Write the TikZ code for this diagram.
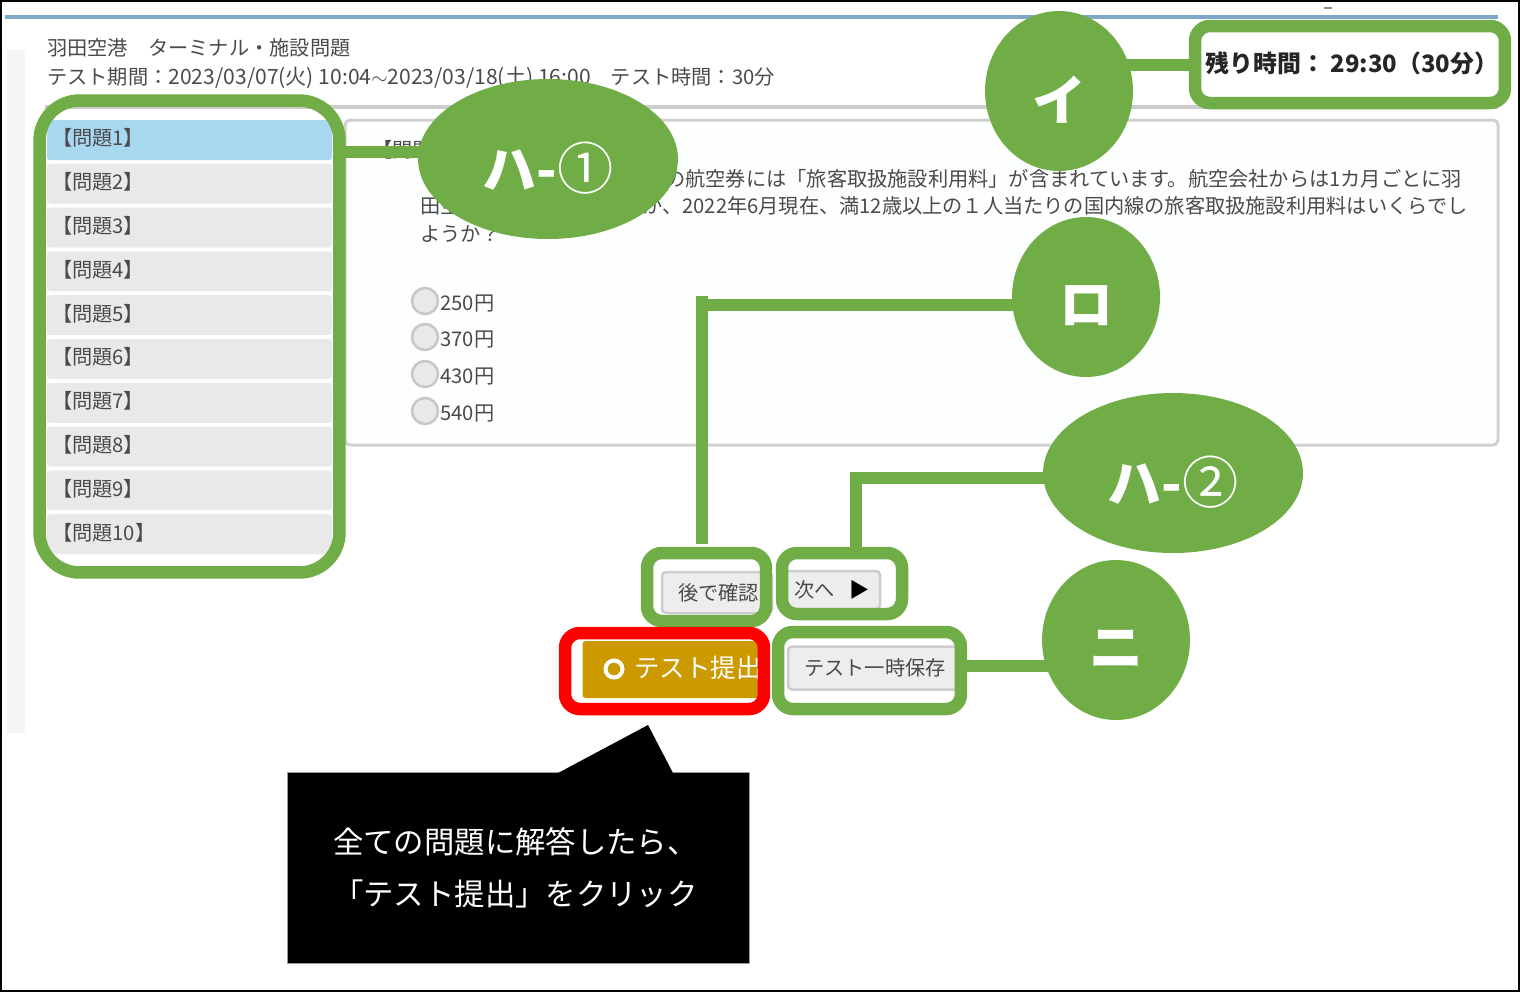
\documentclass[tikz,border=0pt]{standalone}
\usepackage{fontspec}
\setmainfont{Noto Sans CJK JP}
\usetikzlibrary{shapes.geometric}
\definecolor{markgreen}{HTML}{70AD47}
\definecolor{pagegray}{HTML}{4A4A4A}
\definecolor{itemgray}{HTML}{E9E9E9}
\definecolor{itemblue}{HTML}{A8D8F0}
\definecolor{barblue}{HTML}{7FA9C6}
\definecolor{submitgold}{HTML}{CC9900}
\definecolor{panelwhite}{HTML}{FDFEFE}
\tikzset{
	ball/.style={ellipse,fill=markgreen,inner sep=0pt,minimum height=3.2cm},
	balltext/.style={text=white,font=\bfseries\fontsize{30.7}{34}\selectfont,yshift=-5pt,inner sep=0pt},
	frame/.style={draw=markgreen,line width=0.25cm,rounded corners=0.3cm,inner sep=0pt},
	conn/.style={draw=markgreen,line width=0.24cm,line cap=rect},
	pagetext/.style={text=pagegray,font=\fontsize{11.5}{14}\selectfont,inner sep=0pt,anchor=west},
	menuitem/.style={fill=itemgray,rounded corners=0.06cm,minimum height=0.8cm,text width=5.5cm,inner xsep=0.1cm,inner ysep=0pt,align=left,text=pagegray,font=\fontsize{11.5}{14}\selectfont},
	radio/.style={circle,fill=itemgray,draw=black!22,line width=0.05cm,minimum size=0.52cm,inner sep=0pt},
	btn/.style={fill=black!7,draw=black!20,line width=0.05cm,rounded corners=0.08cm,text=pagegray,font=\fontsize{11.5}{14}\selectfont,inner sep=0pt,minimum height=0.76cm}
}
\begin{document}
\begin{tikzpicture}[x=0.02cm,y=-0.02cm]
	\useasboundingbox (0,0) rectangle (1520,992);
	\fill[black!4] (7,50) rectangle (25,733);
	\draw[barblue,line width=0.07cm] (5,17) -- (1498,17);
	\draw[black!45,line width=0.03cm] (1324,8) -- (1332,8);
	\draw[black!20,line width=0.07cm] (45,107) -- (1498,107);
	\node[pagetext] (titleText) at (47,48) {羽田空港　ターミナル・施設問題};
	\node[pagetext] (termText) at (47,78) {テスト期間：{\fontsize{12}{14}\selectfont 2023/03/07(火) 10:04$\sim$2023/03/18(土) 16:00}　テスト時間：30分};
	\fill[panelwhite,draw=black!18,line width=0.06cm,rounded corners=0.1cm] (345,120) rectangle (1498,445);
	\node[pagetext] (headText) at (372,150) {【問題1】};
	\node[pagetext] (lineOne) at (665,179) {の航空券には「旅客取扱施設利用料」が含まれています。航空会社からは1カ月ごとに羽};
	\node[pagetext] (lineTwoA) at (420,206) {田空};
	\node[pagetext] (lineTwoB) at (642,206) {か、2022年6月現在、満12歳以上の１人当たりの国内線の旅客取扱施設利用料はいくらでし};
	\node[pagetext] (lineThree) at (420,234) {ようか？};
	\foreach \cost/\ypos [count=\i] in {250/301,370/337,430/374,540/411}{
		\node[radio] (radio\i) at (425,\ypos) {};
		\node[pagetext] (cost\i) at (440,\ypos+3) {\cost 円};
	}
	\foreach \i in {1,...,10}{
		\node[menuitem] (item\i) at (189.5,140+43.8*\i-43.8) {\raisebox{3pt}{【問題\i】}};
	}
	\node[menuitem,fill=itemblue] (item1) at (189.5,140) {\raisebox{3pt}{【問題1】}};
	\node[btn,minimum width=2.2cm,minimum height=0.82cm] (laterBtn) at (717,592.5) {\hspace{0.06cm}\raisebox{-0.5pt}{後で確認}};
	\node[btn,minimum width=2cm] (nextBtn) at (830,590) {\hspace{0.08cm}\raisebox{-1.5pt}{次へ\hspace{0.3cm}\textcolor{black}{▶}}};
	\node[btn,minimum width=3.48cm,minimum height=0.86cm] (saveBtn) at (875,668) {\raisebox{0.5pt}{テスト一時保存}};
	\node[fill=submitgold,rounded corners=0.06cm,minimum width=3.7cm,minimum height=1.14cm,inner sep=0pt] (submitBtn) at (675,669.5) {};
	\node[circle,draw=white,line width=0.08cm,minimum size=0.34cm,inner sep=0pt] (submitIcon) at (614,669) {};
	\node[text=white,font=\fontsize{14.5}{16}\selectfont,inner sep=0pt,anchor=west] (submitText) at (634,668) {テスト提出};
	\node[frame,rounded corners=0.8cm,minimum width=6cm,minimum height=9.44cm] (listBox) at (189.5,336.5) {};
	\node[frame,minimum width=6.2cm,minimum height=1.54cm] (timeBox) at (1350,64.5) {};
	\node[frame,minimum width=2.38cm,minimum height=1.36cm] (laterBox) at (706.5,587) {};
	\node[frame,minimum width=2.4cm,minimum height=1.22cm] (nextBox) at (842,583.5) {};
	\node[frame,minimum width=3.66cm,minimum height=1.54cm] (saveBox) at (869.5,670.5) {};
	\node[frame,draw=red,minimum width=3.98cm,minimum height=1.52cm] (submitBox) at (664.5,671) {};
	\node[text=black!85,font=\bfseries\fontsize{13.6}{16}\selectfont,inner sep=0pt] (timeText) at (1352,63) {残り時間： 29:30（30分）};
	\node[ball,minimum width=5.2cm,label={[balltext]center:ハ-{\mdseries\fontsize{32}{34}\selectfont ①}}] (haOneBall) at (548,159) {};
	\node[ball,minimum width=2.96cm,label={[balltext]center:イ}] (iBall) at (1059,91) {};
	\node[ball,minimum width=2.96cm,label={[balltext]center:ロ}] (roBall) at (1086,297) {};
	\node[ball,minimum width=5.2cm,label={[balltext]center:ハ-{\mdseries\fontsize{32}{34}\selectfont ②}}] (haTwoBall) at (1173,473) {};
	\node[ball,minimum width=2.96cm,label={[balltext]center:ニ}] (niBall) at (1116,640) {};
	\coordinate (roTop) at (702,296);
	\coordinate (roEnd) at (702,544);
	\coordinate (haTwoCorner) at (haTwoBall.182.5 -| 856,0);
	\draw[conn] (haOneBall.177) -- (haOneBall.177 -| listBox.east);
	\draw[conn] (iBall.20) -- (iBall.20 -| timeBox.west);
	\draw[conn] (roBall.186) -- (roBall.186 -| roTop);
	\draw[conn,line cap=butt] (roTop) -- (roEnd);
	\draw[conn,line cap=butt] ([xshift=0.1cm]haTwoBall.182.5) -- (haTwoCorner) -- (haTwoCorner |- nextBox.north);
	\draw[conn] (niBall.200) -- (niBall.200 -| saveBox.east);
	\node[fill=black,draw=black!40,line width=0.02cm,minimum width=9.26cm,minimum height=3.82cm,text width=7.42cm,inner xsep=0.92cm,inner ysep=0pt,align=left,text=white,font=\fontsize{17.3}{29.6}\selectfont] (noteBox) at (518.5,867.5) {\raisebox{1pt}{全ての問題に解答したら、}\\\raisebox{1pt}{「テスト提出」をクリック}};
	\fill[black] (558,773) -- (648,725) -- (673,773) -- cycle;
	\draw[black,line width=0.04cm] (1,1) rectangle (1519,991);
\end{tikzpicture}
\end{document}
